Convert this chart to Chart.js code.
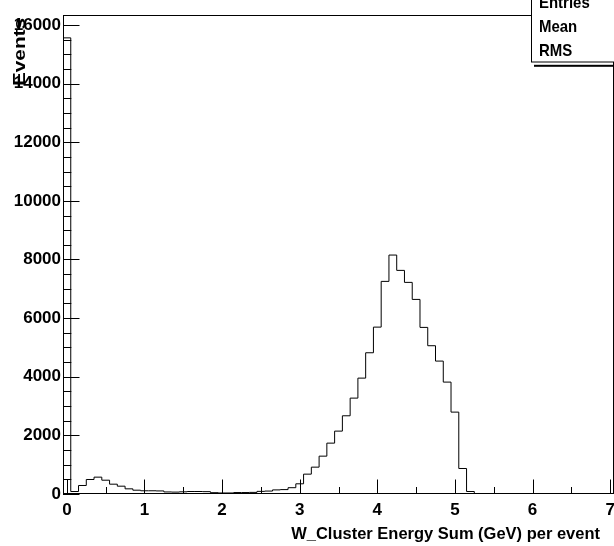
<!DOCTYPE html>
<html>
<head>
<meta charset="utf-8">
<script src="https://cdn.jsdelivr.net/npm/chart.js@4/dist/chart.umd.min.js"></script>
<style>
  html, body { margin: 0; padding: 0; background: #fff; }
  canvas { display: block; }
</style>
</head>
<body>
<canvas id="c" width="614" height="546"></canvas>
<script>
// ---- data ----
const binLow = -0.05;      // lower edge of first bin
const binWidth = 0.1;      // bin width
const counts = [
  15560, 85, 290, 495, 575, 471, 335, 267, 176, 130,   // 0.0 - 0.9
  110, 110, 105, 70, 65, 75, 85, 85, 80, 45,           // 1.0 - 1.9
  35, 35, 50, 50, 55, 90, 100, 140, 150, 215,          // 2.0 - 2.9
  348, 677, 916, 1291, 1735, 2145, 2668, 3271, 3953, 4818, // 3.0 - 3.9
  5693, 7253, 8151, 7628, 7219, 6638, 5683, 5058, 4534, 3817, // 4.0 - 4.9
  2793, 870, 85, 0, 0, 0, 0, 0, 0, 0,                  // 5.0 - 5.9
  0, 0, 0, 0, 0, 0, 0, 0, 0, 0,                        // 6.0 - 6.9
  0                                                    // 7.0
];
const xTickValues = [0, 1, 2, 3, 4, 5, 6, 7];
const yTickValues = [0, 2000, 4000, 6000, 8000, 10000, 12000, 14000, 16000];
const xHalfTickStep = 0.5;
const yMinorStep = 500;
const xRange = [-0.05, 7.05];
const yRange = [0, 16340];
const xTitle = 'W_Cluster Energy Sum (GeV) per event';
const yTitle = 'Events';
const statsLabels = ['Entries', 'Mean', 'RMS'];

// ---- build step points from bin edges ----
const points = [{ x: binLow, y: 0 }];
counts.forEach((v, i) => points.push({ x: binLow + i * binWidth, y: v }));
points.push({ x: binLow + counts.length * binWidth, y: 0 });

const FONT = '"Liberation Sans", Arial, Helvetica, sans-serif';

const rootStyle = {
  id: 'rootStyle',
  afterDraw(chart) {
    const { ctx, chartArea: a, scales: { x, y } } = chart;
    ctx.save();
    ctx.strokeStyle = '#000';
    ctx.fillStyle = '#000';
    ctx.lineWidth = 1;

    // frame
    ctx.strokeRect(a.left + 0.5, a.top + 0.5, a.right - a.left - 1, a.bottom - a.top - 1);

    // x ticks (inward)
    ctx.beginPath();
    for (let v = xTickValues[0]; v <= xTickValues[xTickValues.length - 1] + 1e-9; v += xHalfTickStep) {
      const px = Math.round(x.getPixelForValue(v)) + 0.5;
      const major = Math.abs(v - Math.round(v)) < 1e-6;
      ctx.moveTo(px, a.bottom);
      ctx.lineTo(px, a.bottom - (major ? 14.5 : 7));
    }
    // y ticks (inward)
    for (let v = yRange[0]; v <= yRange[1]; v += yMinorStep) {
      const py = Math.round(y.getPixelForValue(v)) + 0.5;
      const major = v % 2000 === 0;
      ctx.moveTo(a.left, py);
      ctx.lineTo(a.left + (major ? 16.5 : 8.3), py);
    }
    ctx.stroke();

    // x title
    ctx.save();
    ctx.font = 'bold 17px ' + FONT;
    ctx.textAlign = 'right';
    ctx.textBaseline = 'alphabetic';
    ctx.translate(600, 539);
    ctx.scale(0.97, 1);
    ctx.fillText(xTitle, 0, 0);
    ctx.restore();

    // y title
    ctx.save();
    ctx.font = 'bold 17px ' + FONT;
    ctx.textAlign = 'right';
    ctx.textBaseline = 'alphabetic';
    ctx.translate(25, 18);
    ctx.rotate(-Math.PI / 2);
    ctx.scale(1.22, 1);
    ctx.fillText(yTitle, 0, 0);
    ctx.restore();

    // stats box with shadow
    ctx.fillStyle = '#000';
    ctx.fillRect(534, 64.8, 82, 2);
    ctx.fillStyle = '#fff';
    ctx.fillRect(531, -5, 90, 67);
    ctx.strokeStyle = '#000';
    ctx.strokeRect(531.5, -5, 90, 67);
    ctx.fillStyle = '#000';
    ctx.font = 'bold 17px ' + FONT;
    ctx.textAlign = 'left';
    ctx.textBaseline = 'alphabetic';
    const baselines = [7.8, 32.3, 56];
    statsLabels.forEach((t, i) => {
      ctx.save();
      ctx.translate(539, baselines[i]);
      ctx.scale(0.88, 1);
      ctx.fillText(t, 0, 0);
      ctx.restore();
    });
    ctx.restore();
  }
};

new Chart(document.getElementById('c'), {
  type: 'line',
  data: {
    datasets: [{
      data: points,
      stepped: 'before',
      borderColor: '#000',
      borderWidth: 1,
      pointRadius: 0,
      fill: false,
      tension: 0
    }]
  },
  options: {
    responsive: false,
    devicePixelRatio: 1,
    animation: false,
    parsing: true,
    layout: { padding: { top: 15, left: 0, right: 0, bottom: 0 } },
    plugins: { legend: { display: false }, tooltip: { enabled: false } },
    scales: {
      x: {
        type: 'linear',
        min: xRange[0],
        max: xRange[1],
        grid: { display: false, drawTicks: false },
        border: { display: false },
        ticks: {
          color: '#000',
          padding: 6,
          maxRotation: 0,
          autoSkip: false,
          font: { family: FONT, size: 17, weight: 'bold' },
          callback: v => String(v)
        },
        afterBuildTicks: s => { s.ticks = xTickValues.map(v => ({ value: v })); },
        afterFit: s => { s.height = 52; s.paddingLeft = 0; s.paddingRight = 0; }
      },
      y: {
        type: 'linear',
        min: yRange[0],
        max: yRange[1],
        grid: { display: false, drawTicks: false },
        border: { display: false },
        ticks: {
          color: '#000',
          padding: 2,
          autoSkip: false,
          font: { family: FONT, size: 17, weight: 'bold' },
          callback: v => String(v)
        },
        afterBuildTicks: s => { s.ticks = yTickValues.map(v => ({ value: v })); },
        afterFit: s => { s.width = 63; s.paddingTop = 0; s.paddingBottom = 0; }
      }
    }
  },
  plugins: [rootStyle]
});
</script>
</body>
</html>
